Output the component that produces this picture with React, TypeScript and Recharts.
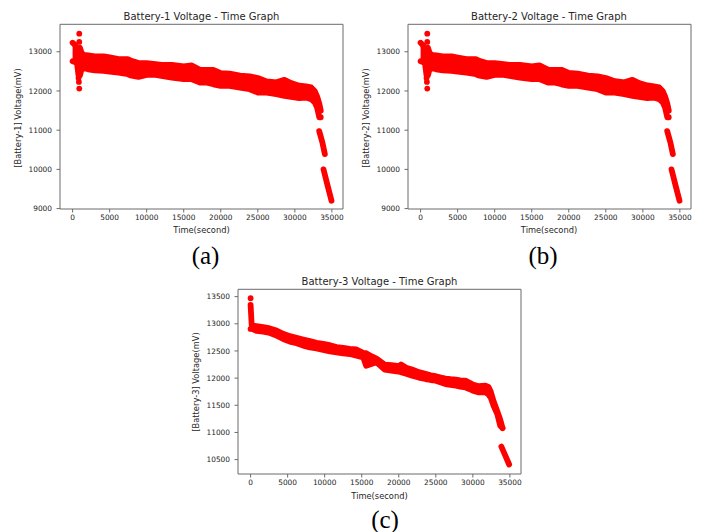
import React from 'react';
import { ComposedChart, Area, Line, Scatter, XAxis, YAxis, ReferenceArea } from 'recharts';

// ---------- axis ticks ----------
const X_TICKS = [0, 5000, 10000, 15000, 20000, 25000, 30000, 35000];
const Y_TICKS_AB = [9000, 10000, 11000, 12000, 13000];
const Y_TICKS_C = [10500, 11000, 11500, 12000, 12500, 13000, 13500];

// ---------- Battery-1 (upper / lower edge of the dense point cloud) ----------
const B1_TIME = [0, 300, 600, 800, 1000, 1200, 1450, 2100, 3000, 4200, 5000, 6200, 7500, 7800, 8900, 10000, 11200, 12000, 13400, 15000, 16100, 17200, 18000, 19000, 20000, 21200, 22600, 23900, 25000, 26200, 27500, 28600, 29500, 30600, 31500, 32200, 32700, 33000, 33300, 33500];
const B1_HIGH = [13230, 13180, 13080, 13000, 13100, 12980, 12920, 12905, 12880, 12880, 12855, 12810, 12810, 12780, 12710, 12710, 12685, 12667, 12667, 12625, 12650, 12540, 12540, 12540, 12455, 12440, 12390, 12370, 12330, 12245, 12220, 12285, 12200, 12135, 12115, 12090, 11990, 11860, 11680, 11500];
const B1_LOW = [12760, 12740, 12700, 12400, 12400, 12550, 12595, 12553, 12528, 12510, 12494, 12468, 12426, 12400, 12360, 12410, 12410, 12383, 12340, 12300, 12300, 12215, 12215, 12170, 12130, 12130, 12087, 12045, 11960, 11960, 11917, 11875, 11850, 11816, 11833, 11790, 11706, 11578, 11330, 11330];
const B1_OUT_TIME = [900, 900, 850, 900, 800];
const B1_OUT_VOLT = [13460, 13250, 12230, 12060, 12330];
const B1_DROP1_TIME = [33290, 33700, 34050];
const B1_DROP1_VOLT = [10975, 10700, 10390];
const B1_DROP2_TIME = [33870, 34400, 34950];
const B1_DROP2_VOLT = [10000, 9600, 9200];

// ---------- Battery-2 ----------
const B2_TIME = [0, 300, 600, 800, 1000, 1200, 1450, 2100, 3000, 4200, 5000, 6200, 7500, 7800, 8900, 10000, 11200, 12000, 13400, 15000, 16100, 17200, 18000, 19000, 20000, 21200, 22600, 23900, 25000, 26200, 27500, 28600, 29500, 30600, 31500, 32200, 32700, 33000, 33300, 33500];
const B2_HIGH = [13230, 13170, 13080, 13000, 13100, 12980, 12920, 12905, 12880, 12880, 12850, 12810, 12810, 12780, 12710, 12710, 12685, 12667, 12667, 12625, 12650, 12545, 12540, 12540, 12460, 12440, 12390, 12370, 12330, 12250, 12220, 12285, 12200, 12140, 12115, 12090, 11990, 11860, 11680, 11500];
const B2_LOW = [12760, 12740, 12700, 12400, 12400, 12550, 12595, 12553, 12528, 12510, 12494, 12468, 12426, 12400, 12360, 12410, 12410, 12383, 12340, 12300, 12300, 12215, 12215, 12170, 12130, 12130, 12087, 12045, 11960, 11960, 11917, 11875, 11850, 11816, 11833, 11790, 11706, 11578, 11330, 11330];
const B2_OUT_TIME = [900, 900, 850, 900, 800];
const B2_OUT_VOLT = [13460, 13250, 12230, 12060, 12330];
const B2_DROP1_TIME = [33290, 33700, 34050];
const B2_DROP1_VOLT = [10975, 10700, 10390];
const B2_DROP2_TIME = [33870, 34400, 34950];
const B2_DROP2_VOLT = [10000, 9600, 9200];

// ---------- Battery-3 ----------
const B3_TIME = [0, 150, 400, 800, 1700, 2600, 3500, 4400, 5300, 6200, 7100, 8000, 8900, 9800, 10700, 11600, 12500, 13400, 14300, 15200, 15600, 16300, 17000, 18100, 19000, 20000, 20300, 21000, 21800, 22700, 23600, 24300, 25000, 25700, 26300, 27000, 27700, 28300, 29000, 29500, 30000, 30800, 31700, 32100, 32400, 32800, 33300, 33700, 34000];
const B3_HIGH = [13350, 12970, 12970, 12955, 12940, 12915, 12877, 12815, 12772, 12742, 12711, 12680, 12650, 12631, 12606, 12570, 12557, 12540, 12527, 12465, 12460, 12404, 12360, 12250, 12240, 12219, 12250, 12190, 12158, 12110, 12078, 12050, 12035, 12010, 11992, 11980, 11973, 11960, 11955, 11920, 11881, 11851, 11863, 11840, 11758, 11574, 11390, 11235, 11080];
const B3_LOW = [12905, 12905, 12895, 12870, 12856, 12831, 12782, 12721, 12671, 12641, 12598, 12567, 12548, 12518, 12493, 12475, 12456, 12444, 12413, 12382, 12229, 12259, 12290, 12155, 12140, 12118, 12110, 12080, 12045, 12010, 11983, 11965, 11953, 11920, 11891, 11875, 11860, 11845, 11830, 11800, 11768, 11737, 11737, 11700, 11645, 11491, 11337, 11122, 11080];
const B3_OUT_TIME = [0];
const B3_OUT_VOLT = [13470];
const B3_DROP1_TIME = [33850, 34400, 34900];
const B3_DROP1_VOLT = [10740, 10570, 10410];

const RED = '#ff0000';
const FRAME = '#6b6b6b';
const TXT = '#262626';
const FONT = 'DejaVu Sans';

type Pt = { t: number; v: number };

function band(time: number[], low: number[], high: number[]) {
  return time.map((t, i) => ({ t, band: [low[i], high[i]] }));
}
function pts(time: number[], volt: number[]): Pt[] {
  return time.map((t, i) => ({ t, v: volt[i] }));
}

const dotShape = (p: any) => <circle cx={p.cx} cy={p.cy} r={2.9} fill={RED} />;

type PanelProps = {
  left: number;
  top: number;
  data: { t: number; band: number[] }[];
  outliers: Pt[];
  drops: Pt[][];
  yDomain: [number, number];
  yTicks: number[];
};

function Panel({ left, top, data, outliers, drops, yDomain, yTicks }: PanelProps) {
  const xDomain: [number, number] = [-1700, 36500];
  return (
    <div style={{ position: 'absolute', left, top }}>
      <ComposedChart
        width={360}
        height={250}
        data={data}
        margin={{ top: 24.3, right: 17, bottom: 16, left: 10 }}
      >
        <XAxis
          dataKey="t"
          type="number"
          domain={xDomain}
          allowDataOverflow
          ticks={X_TICKS}
          interval={0}
          height={25}
          axisLine={false}
          tickSize={3.5}
          tickMargin={2.3}
          tickLine={{ stroke: FRAME }}
          tick={{ fontSize: 7.4, fill: TXT, fontFamily: FONT }}
        />
        <YAxis
          type="number"
          domain={yDomain}
          allowDataOverflow
          ticks={yTicks}
          interval={0}
          width={50}
          axisLine={false}
          tickSize={3.5}
          tickMargin={4.5}
          tickLine={{ stroke: FRAME }}
          tick={{ fontSize: 7.4, fill: TXT, fontFamily: FONT }}
        />
        <ReferenceArea
          x1={xDomain[0]}
          x2={xDomain[1]}
          y1={yDomain[0]}
          y2={yDomain[1]}
          fill="none"
          fillOpacity={0}
          stroke={FRAME}
          strokeWidth={1}
        />
        <Area
          dataKey="band"
          type="linear"
          stroke={RED}
          strokeWidth={5.8}
          strokeLinejoin="round"
          strokeLinecap="round"
          fill={RED}
          fillOpacity={1}
          dot={false}
          activeDot={false}
          isAnimationActive={false}
        />
        {drops.map((d, i) => (
          <Line
            key={i}
            data={d}
            dataKey="v"
            type="linear"
            stroke={RED}
            strokeWidth={5.8}
            strokeLinecap="round"
            strokeLinejoin="round"
            dot={false}
            activeDot={false}
            isAnimationActive={false}
          />
        ))}
        <Scatter data={outliers} dataKey="v" fill={RED} shape={dotShape} isAnimationActive={false} />
      </ComposedChart>
    </div>
  );
}

export default function App() {
  return (
    <div
      style={{
        position: 'absolute',
        left: 0,
        top: 0,
        width: 705,
        height: 532,
        overflow: 'hidden',
        background: '#fff',
      }}
    >
      <Panel
        left={0}
        top={0}
        data={band(B1_TIME, B1_LOW, B1_HIGH)}
        outliers={pts(B1_OUT_TIME, B1_OUT_VOLT)}
        drops={[pts(B1_DROP1_TIME, B1_DROP1_VOLT), pts(B1_DROP2_TIME, B1_DROP2_VOLT)]}
        yDomain={[8990, 13700]}
        yTicks={Y_TICKS_AB}
      />
      <Panel
        left={347.6}
        top={0}
        data={band(B2_TIME, B2_LOW, B2_HIGH)}
        outliers={pts(B2_OUT_TIME, B2_OUT_VOLT)}
        drops={[pts(B2_DROP1_TIME, B2_DROP1_VOLT), pts(B2_DROP2_TIME, B2_DROP2_VOLT)]}
        yDomain={[8990, 13700]}
        yTicks={Y_TICKS_AB}
      />
      <Panel
        left={178}
        top={265}
        data={band(B3_TIME, B3_LOW, B3_HIGH)}
        outliers={pts(B3_OUT_TIME, B3_OUT_VOLT)}
        drops={[pts(B3_DROP1_TIME, B3_DROP1_VOLT)]}
        yDomain={[10235, 13635]}
        yTicks={Y_TICKS_C}
      />
      <svg
        width={705}
        height={532}
        style={{ position: 'absolute', left: 0, top: 0, pointerEvents: 'none' }}
      >
        <g fontFamily={FONT} fill={TXT}>
          <text x={201.5} y={16} fontSize={10} textAnchor="middle" dominantBaseline="central">
            Battery-1 Voltage - Time Graph
          </text>
          <text x={549} y={16} fontSize={10} textAnchor="middle" dominantBaseline="central">
            Battery-2 Voltage - Time Graph
          </text>
          <text x={379.5} y={281.7} fontSize={10} textAnchor="middle" dominantBaseline="central">
            Battery-3 Voltage - Time Graph
          </text>
          <text x={201.5} y={230} fontSize={8.3} textAnchor="middle" dominantBaseline="central">
            Time(second)
          </text>
          <text x={549} y={230} fontSize={8.3} textAnchor="middle" dominantBaseline="central">
            Time(second)
          </text>
          <text x={379.5} y={496} fontSize={8.3} textAnchor="middle" dominantBaseline="central">
            Time(second)
          </text>
          <text
            x={18}
            y={118}
            fontSize={8.3}
            textAnchor="middle"
            dominantBaseline="central"
            transform="rotate(-90 18 118)"
          >
            [Battery-1] Voltage(mV)
          </text>
          <text
            x={365.5}
            y={118}
            fontSize={8.3}
            textAnchor="middle"
            dominantBaseline="central"
            transform="rotate(-90 365.5 118)"
          >
            [Battery-2] Voltage(mV)
          </text>
          <text
            x={195.5}
            y={382}
            fontSize={8.3}
            textAnchor="middle"
            dominantBaseline="central"
            transform="rotate(-90 195.5 382)"
          >
            [Battery-3] Voltage(mV)
          </text>
        </g>
        <g fontFamily="Liberation Serif" fill="#000" fontSize={25}>
          <text x={205.5} y={264.4} textAnchor="middle">(a)</text>
          <text x={543} y={264.4} textAnchor="middle">(b)</text>
          <text x={385} y={528} textAnchor="middle">(c)</text>
        </g>
      </svg>
    </div>
  );
}
